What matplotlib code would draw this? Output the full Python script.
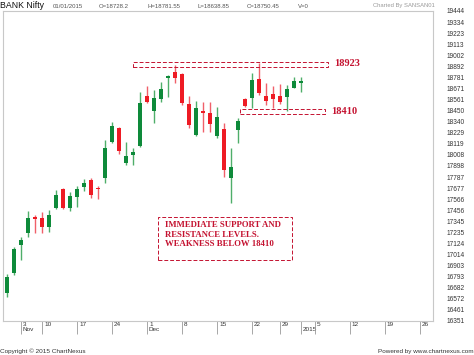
import numpy as np
import matplotlib
matplotlib.use("Agg")
import matplotlib.pyplot as plt
from matplotlib.patches import Rectangle
from matplotlib.transforms import ScaledTranslation

# trading-day index, 0 = 3 Nov 2014 (exchange holidays skipped), 40 = 1 Jan 2015
day_idx = np.arange(-2, 41)
opens = [16630, 16829, 17109, 17228, 17388, 17378, 17288, 17478, 17668, 17478,
         17588, 17688, 17757, 17678, 17777, 18137, 18276, 17927, 18007, 18097,
         18596, 18446, 18566, 18775, 18835, 18815, 18516, 18207, 18446, 18426,
         18197, 18266, 17777, 18256, 18566, 18576, 18765, 18596, 18616, 18596,
         18586, 18676, 18728.2]
highs = [16819, 17089, 17189, 17448, 17408, 17438, 17458, 17658, 17678, 17638,
         17698, 17767, 17777, 17698, 18157, 18336, 18286, 18137, 18077, 18636,
         18696, 18656, 18735, 18805, 18905, 18825, 18596, 18546, 18536, 18536,
         18486, 18326, 18077, 18376, 18576, 18825, 18923, 18725, 18696, 18715,
         18706, 18785, 18781.55]
lows = [16590, 16809, 16959, 17189, 17228, 17228, 17238, 17468, 17468, 17448,
        17488, 17648, 17578, 17568, 17727, 18127, 18017, 17907, 17907, 18087,
        18526, 18326, 18536, 18586, 18725, 18506, 18276, 18197, 18236, 18236,
        18177, 17787, 17528, 18127, 18486, 18476, 18606, 18506, 18476, 18516,
        18446, 18676, 18638.85]
closes = [16789, 17069, 17159, 17378, 17368, 17288, 17408, 17608, 17478, 17598,
          17668, 17727, 17608, 17668, 18077, 18296, 18047, 17997, 18037, 18526,
          18536, 18576, 18666, 18795, 18775, 18526, 18306, 18476, 18426, 18316,
          18386, 17857, 17887, 18346, 18496, 18755, 18626, 18546, 18566, 18536,
          18666, 18745, 18750.45]

y_ticks = [16351, 16461, 16572, 16682, 16793, 16903, 17014, 17124, 17235, 17345,
           17456, 17566, 17677, 17787, 17898, 18008, 18119, 18229, 18340, 18450,
           18561, 18671, 18781, 18892, 19002, 19113, 19223, 19334, 19444]
x_tick_pos = [0, 3, 8, 13, 18, 23, 28, 33, 37, 40, 42, 47, 52, 57]
x_tick_labels = ["3\nNov", "10", "17", "24", "1\nDec", "8", "15", "22", "29",
                 "\n2015", "5", "12", "19", "26"]
month_ticks = [0, 18, 40]

resistance = 18923
support = 18410
note = "IMMEDIATE SUPPORT AND\nRESISTANCE LEVELS.\nWEAKNESS BELOW 18410"

GREEN, GREEN_W = "#0e8a3a", "#4fae6a"
RED, RED_W = "#ee1b24", "#f0606a"
ANNOT = "#c41230"
SANS = ["Liberation Sans", "DejaVu Sans"]
DASH = (0, (4, 2))

fig = plt.figure(figsize=(4.74, 3.55), dpi=100)
ax = fig.add_axes([3 / 474, 34 / 355, 430 / 474, 310 / 355])

o = np.array(opens)
c = np.array(closes)
up = c >= o
body_lo = np.minimum(o, c)
body_h = np.maximum(np.abs(c - o), 12)
wick_col = [GREEN_W if u else RED_W for u in up]
body_col = [GREEN if u else RED for u in up]

ax.vlines(day_idx, lows, highs, colors=wick_col, linewidth=1, zorder=2)
ax.bar(day_idx, body_h, bottom=body_lo, width=0.68, color=body_col,
       linewidth=0, zorder=3)

ax.set_xlim(-2.57, 58.86)
ax.set_ylim(y_ticks[0], y_ticks[-1])

# right-hand price scale
ax.yaxis.tick_right()
ax.set_yticks(y_ticks)
ax.set_yticklabels([str(v) for v in y_ticks], fontsize=4.7, color="#333333",
                   family=SANS)
ax.tick_params(axis="y", length=0, pad=10)

# date scale, labels sit to the right of each tick
ax.set_xticks(x_tick_pos)
ax.set_xticklabels(x_tick_labels, fontsize=4.6, color="#333333", family=SANS,
                   linespacing=1.0)
ax.set_xticks(month_ticks, minor=True)
ax.tick_params(axis="x", which="major", length=9, width=0.6, color="#999999", pad=-8)
ax.tick_params(axis="x", which="minor", length=20, width=0.6, color="#999999")
shift = ScaledTranslation(2 / 100, 0, fig.dpi_scale_trans)
for lbl in ax.get_xticklabels():
    lbl.set_horizontalalignment("left")
    lbl.set_verticalalignment("top")
    lbl.set_transform(lbl.get_transform() + shift)

for sp in ax.spines.values():
    sp.set_color("#c8c8c8")
    sp.set_linewidth(0.8)

# resistance / support markers
ax.add_patch(Rectangle((16.0, 18890), 27.9, 50, fill=False, edgecolor=ANNOT,
                       linestyle=DASH, linewidth=0.7, zorder=4))
ax.add_patch(Rectangle((31.3, 18416), 12.1, 55, fill=False, edgecolor=ANNOT,
                       linestyle=DASH, linewidth=0.7, zorder=4))
ax.text(44.7, resistance, str(resistance), fontsize=7.5, color=ANNOT,
        family="Liberation Serif", fontweight="bold", va="center", ha="left")
ax.text(44.3, support + 30, str(support), fontsize=7.5, color=ANNOT,
        family="Liberation Serif", fontweight="bold", va="center", ha="left")

ax.add_patch(Rectangle((19.57, 16959), 19.14, 429, fill=False, edgecolor=ANNOT,
                       linestyle=DASH, linewidth=0.7, zorder=4))
ax.text(20.6, 17350, note, fontsize=6.3, color=ANNOT, family="Liberation Serif",
        fontweight="bold", va="top", ha="left", linespacing=1.3)

# header and footer
def ftext(x, y, s, **kw):
    fig.text(x / 474, 1 - y / 355, s, va="center", family=SANS, **kw)

ftext(0, 6, "BANK Nifty", fontsize=6.3, color="#111111")
ftext(53, 6, "01/01/2015", fontsize=4.3, color="#555555")
ftext(99, 6, "O=18728.2", fontsize=4.3, color="#555555")
ftext(147, 6, "H=18781.55", fontsize=4.3, color="#555555")
ftext(197, 6, "L=18638.85", fontsize=4.3, color="#555555")
ftext(247, 6, "C=18750.45", fontsize=4.3, color="#555555")
ftext(298, 6, "V=0", fontsize=4.3, color="#555555")
ftext(373, 6, "Charted By SANSAN01", fontsize=4.2, color="#9a9a9a")
ftext(0, 351, "Copyright \u00a9 2015 ChartNexus", fontsize=4.6, color="#333333")
ftext(474, 351, "Powered by www.chartnexus.com", fontsize=4.6, color="#333333",
      ha="right")

fig.savefig("out.png", dpi=100, facecolor="white")
